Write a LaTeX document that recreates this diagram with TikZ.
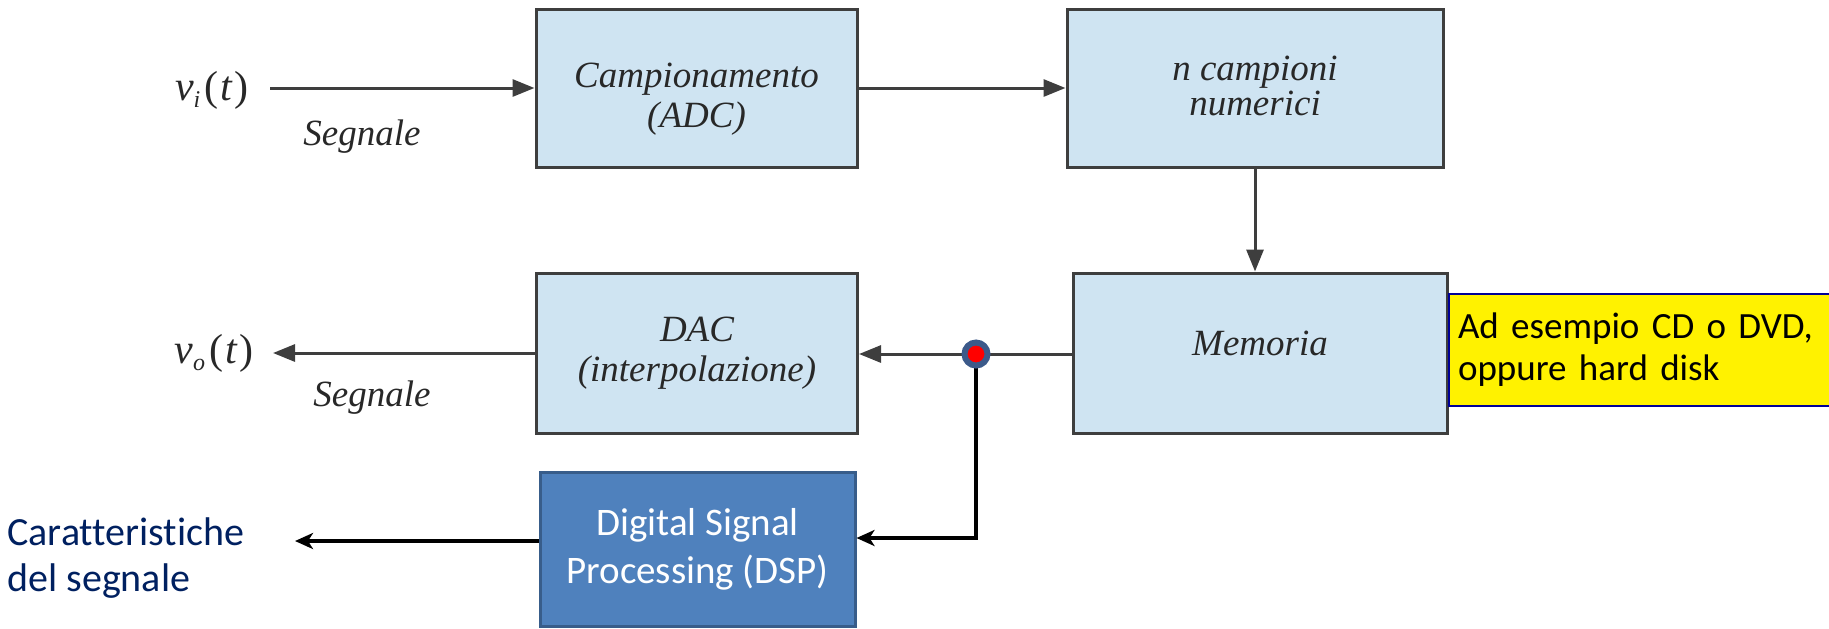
\documentclass[tikz,border=0pt]{standalone}
\usepackage{fontspec}
\setmainfont{Liberation Serif}
\newfontfamily\calfont[Ligatures=NoCommon]{Carlito}
\usetikzlibrary{arrows.meta,shapes.geometric}
\definecolor{boxfill}{RGB}{207,228,242}
\definecolor{boxline}{RGB}{62,62,62}
\definecolor{dspfill}{RGB}{79,129,189}
\definecolor{dspline}{RGB}{56,93,138}
\definecolor{navytxt}{RGB}{0,32,96}
\definecolor{dotline}{RGB}{60,90,138}
\definecolor{noteline}{RGB}{0,0,150}
\definecolor{txt}{RGB}{40,40,40}
\begin{document}
\begin{tikzpicture}[x=0.5pt,y=-0.5pt,
  blk/.style={draw=boxline, fill=boxfill, line width=1.5pt, inner sep=0pt},
  btxt/.style={align=center, inner sep=0pt, text=txt,
    font=\fontsize{18.5}{20}\selectfont\itshape},
  lbl/.style={inner sep=0pt, text=txt, font=\fontsize{18.5}{19.5}\selectfont\itshape},
  sig/.style={inner sep=0pt, text=txt, font=\fontsize{21}{21}\selectfont},
  garrow/.style={draw=boxline, line width=1.5pt, -{Triangle[length=11pt,width=8.5pt]}},
  gline/.style={draw=boxline, line width=1.5pt},
  barrow/.style={draw=black, line width=2pt, -{Stealth[length=9pt,width=8pt,inset=2.5pt]}},
  dspbox/.style={draw=dspline, fill=dspfill, line width=1.5pt, align=center, inner sep=0pt,
    text=white, font=\calfont\fontsize{19.5}{24}\selectfont},
  notebox/.style={draw=noteline, fill=yellow, line width=1pt, align=left, inner xsep=4.5pt,
    inner ysep=0pt, text=black, font=\calfont\fontsize{18.5}{21}\selectfont},
  dotnode/.style={circle, draw=dotline, fill=red, line width=3pt, minimum size=11.5pt,
    inner sep=0pt}
]
\clip (0,0) rectangle (1829,628);

% blocks
\node[blk, minimum width=160.5pt, minimum height=79pt] (adc) at (696.5,88) {};
\node[blk, minimum width=188pt, minimum height=79pt] (ncamp) at (1255,88) {};
\node[blk, minimum width=187pt, minimum height=80pt] (mem) at (1260,353) {};
\node[blk, minimum width=160.5pt, minimum height=80pt] (dac) at (697,353) {};
\node[dspbox, minimum width=157.5pt, minimum height=77pt] (dsp) at (697.5,549) {Digital Signal\\Processing (DSP)};
\node[notebox, anchor=north west, text width=187pt, minimum height=56pt] (note) at (1448,293)
  {Ad esempio CD o DVD,\\oppure hard disk};

% block texts
\node[btxt] (adcT) at ([yshift=-5.5pt]adc.center) {Campionamento\\(ADC)};
\node[btxt, font=\fontsize{18.5}{17.5}\selectfont\itshape] (ncampT) at ([yshift=1pt]ncamp.center) {n campioni\\numerici};
\node[btxt] (memT) at ([yshift=5pt]mem.center) {Memoria};
\node[btxt] (dacT) at (dac.center) {DAC\\(interpolazione)};

% labels
\node[sig] (vi) at (212,90) {\textit{v}\raisebox{-0.4ex}{\fontsize{12}{12}\selectfont\textit{i}}\kern2pt(\kern1pt\textit{t}\kern1pt)};
\node[lbl] (seg1) at (362,137) {Segnale};
\node[sig] (vo) at (214,353) {\textit{v}\raisebox{-0.4ex}{\fontsize{12}{12}\selectfont\textit{o}}\kern2pt(\kern1pt\textit{t}\kern1pt)};
\node[lbl] (seg2) at (372,398) {Segnale};
\node[anchor=west, inner sep=0pt, align=left, text=navytxt, font=\calfont\fontsize{20}{23}\selectfont]
  (car) at (7,558) {Caratteristiche\\del segnale};

% free ends
\coordinate (inStart) at (270,88);
\coordinate (outEnd) at (273,353);
\coordinate (j) at (976,354);
\coordinate (corner) at (976,538);
\coordinate (carEnd) at (295,541);

% connectors
\draw[garrow] (inStart) -- (adc.west);
\draw[garrow] (adc.east) -- (ncamp.west);
\draw[garrow] (ncamp.south) -- (ncamp.south |- mem.north);
\draw[gline] (mem.west |- j) -- (j);
\draw[garrow] (j) -- (dac.east |- j);
\draw[garrow] (dac.west |- outEnd) -- (outEnd);
\draw[barrow] (j) -- (corner) -- (dsp.east |- corner);
\draw[barrow] (dsp.west |- carEnd) -- (carEnd);

\node[dotnode] (dot) at (j) {};
\end{tikzpicture}
\end{document}
